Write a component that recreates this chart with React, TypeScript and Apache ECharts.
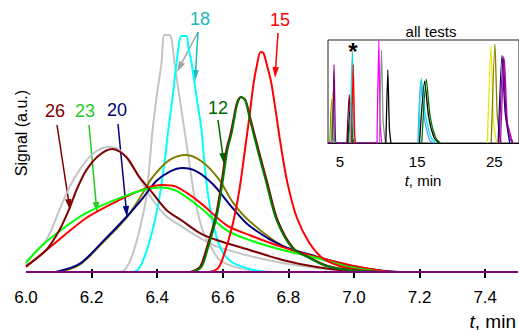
import React, { useEffect, useRef } from "react";
import * as echarts from "echarts";

// ---------- main chart data: [t (min), signal] ----------
const xTickLabels = [6.0, 6.2, 6.4, 6.6, 6.8, 7.0, 7.2, 7.4];
const xTickMarks = [6.2, 6.4, 6.6, 6.8, 7.0, 7.2, 7.4];

const grayWide = [[6.0,0.046],[6.062,0.135],[6.102,0.262],[6.133,0.359],[6.163,0.43],[6.2,0.494],[6.248,0.527],[6.285,0.515],[6.331,0.43],[6.386,0.304],[6.428,0.235],[6.477,0.19],[6.529,0.145],[6.581,0.108],[6.681,0.068],[6.782,0.038],[6.886,0.017],[6.986,0.004],[7.05,0]];
const grayNarrow = [[6.28,0],[6.3,0.008],[6.322,0.063],[6.346,0.177],[6.367,0.316],[6.377,0.46],[6.386,0.6],[6.398,0.738],[6.413,0.88],[6.422,1.0],[6.437,1.0],[6.444,0.98],[6.453,0.88],[6.468,0.738],[6.483,0.6],[6.498,0.46],[6.514,0.316],[6.538,0.177],[6.569,0.093],[6.59,0.051],[6.63,0.025],[6.681,0.008],[6.758,0]];
const cyan18 = [[6.316,0],[6.34,0.008],[6.361,0.063],[6.386,0.177],[6.407,0.316],[6.422,0.46],[6.434,0.6],[6.447,0.738],[6.459,0.88],[6.474,0.996],[6.489,0.996],[6.495,0.949],[6.505,0.88],[6.52,0.738],[6.535,0.6],[6.544,0.46],[6.556,0.316],[6.575,0.177],[6.596,0.093],[6.627,0.042],[6.681,0.013],[6.736,0]];
const olive20 = [[6.1,0],[6.163,0.03],[6.233,0.122],[6.306,0.228],[6.355,0.33],[6.386,0.4],[6.437,0.472],[6.489,0.494],[6.538,0.464],[6.59,0.388],[6.63,0.295],[6.681,0.215],[6.782,0.11],[6.886,0.06],[6.986,0.025],[7.087,0.004],[7.14,0]];
const navy20 = [[6.09,0],[6.163,0.034],[6.233,0.127],[6.306,0.232],[6.355,0.31],[6.398,0.385],[6.44,0.425],[6.477,0.439],[6.52,0.425],[6.57,0.37],[6.63,0.27],[6.681,0.195],[6.782,0.11],[6.886,0.065],[6.986,0.028],[7.087,0.005],[7.14,0]];
const red23 = [[6.0,0.021],[6.081,0.114],[6.184,0.228],[6.285,0.304],[6.367,0.354],[6.416,0.367],[6.459,0.359],[6.529,0.295],[6.611,0.198],[6.681,0.156],[6.782,0.105],[6.886,0.063],[6.986,0.03],[7.087,0.004],[7.12,0]];
const green23 = [[6.0,0.038],[6.04,0.1],[6.1,0.17],[6.184,0.249],[6.285,0.312],[6.367,0.35],[6.41,0.357],[6.459,0.342],[6.529,0.274],[6.611,0.177],[6.681,0.135],[6.782,0.093],[6.886,0.059],[6.986,0.021],[7.087,0]];
const darkRed26 = [[6.0,0.025],[6.062,0.093],[6.102,0.177],[6.133,0.27],[6.154,0.346],[6.184,0.43],[6.224,0.494],[6.264,0.519],[6.306,0.485],[6.346,0.4],[6.386,0.333],[6.428,0.262],[6.477,0.215],[6.529,0.165],[6.581,0.135],[6.681,0.093],[6.782,0.051],[6.886,0.021],[6.986,0.004],[7.08,0]];
const red15 = [[6.56,0],[6.585,0.015],[6.603,0.07],[6.63,0.2],[6.651,0.35],[6.666,0.5],[6.681,0.654],[6.694,0.797],[6.703,0.865],[6.715,0.928],[6.724,0.924],[6.736,0.865],[6.748,0.797],[6.764,0.654],[6.779,0.515],[6.797,0.376],[6.825,0.232],[6.864,0.122],[6.904,0.059],[6.956,0.025],[7.017,0.008],[7.087,0]];
const darkRed12 = [[6.5,0],[6.53,0.021],[6.549,0.093],[6.578,0.232],[6.596,0.376],[6.611,0.515],[6.624,0.586],[6.634,0.654],[6.643,0.713],[6.655,0.738],[6.669,0.725],[6.683,0.654],[6.709,0.515],[6.736,0.376],[6.767,0.219],[6.815,0.101],[6.867,0.059],[6.92,0.025],[6.99,0.008],[7.08,0]];
const green12 = [[6.508,0],[6.535,0.021],[6.553,0.093],[6.581,0.232],[6.599,0.376],[6.614,0.515],[6.627,0.586],[6.636,0.654],[6.645,0.713],[6.657,0.738],[6.669,0.722],[6.681,0.654],[6.706,0.515],[6.733,0.376],[6.764,0.219],[6.812,0.101],[6.864,0.059],[6.916,0.025],[6.986,0.008],[7.078,0]];
const purpleBase = [[6.0,0],[7.5,0]];

// ---------- inset data: [t (min), signal] ----------
const insetTickLabels = [5, 15, 25];
const inPurpleA = [[3.45,0],[3.98,0],[4.23,0.76],[4.4,0.08],[4.55,0],[9.9,0]];
const inPurpleB = [[25.6,0],[26.16,0.84],[26.5,0.3],[27.0,0.05],[27.4,0]];
const inOliveA = [[3.7,0],[3.92,0.42],[4.15,0.05],[4.3,0]];
const inYellowA = [[3.8,0],[4.05,0.49],[4.25,0.05],[4.4,0]];
const inTealA = [[3.9,0],[4.1,0.39],[4.3,0]];
const inDarkRedA = [[5.9,0],[6.2,0.47],[6.45,0.15],[6.7,0]];
const inNavyA = [[6.0,0],[6.38,0.39],[6.6,0.05],[6.8,0]];
const inDkGreenA = [[6.1,0],[6.4,0.3],[6.6,0.05],[6.8,0]];
const inGrayA = [[6.3,0],[6.6,0.9],[6.8,0.1],[6.95,0]];
const inCyanA = [[6.4,0],[6.62,0.88],[6.8,0.1],[6.95,0]];
const inRedA = [[6.5,0],[6.72,0.76],[6.9,0.1],[7.0,0]];
const inMagentaA = [[9.8,0],[10.03,1.0],[10.2,0.2],[10.4,0]];
const inGrayB = [[10.1,0],[10.38,0.9],[10.6,0.2],[10.9,0]];
const inBlackA = [[10.95,0],[11.2,0.71],[11.4,0.15],[11.6,0]];
const inLightBlueB = [[15.1,0],[15.45,0.6],[15.9,0.25],[16.6,0.03],[17.2,0]];
const inCyanB = [[15.2,0],[15.54,0.63],[16.0,0.3],[16.8,0.05],[17.5,0]];
const inBlackB = [[15.3,0],[15.97,0.6],[16.5,0.25],[17.2,0.05],[17.8,0]];
const inDkGreenB = [[15.6,0],[16.18,0.62],[16.7,0.25],[17.4,0.05],[18.0,0]];
const inYellowB = [[24.1,0],[24.57,0.94],[24.9,0.2],[25.3,0]];
const inOliveB = [[24.6,0],[25.08,0.96],[25.4,0.25],[25.9,0]];
const inNavyB = [[25.5,0],[25.99,0.85],[26.4,0.3],[27.0,0]];
const inMagentaB = [[25.8,0],[26.3,0.82],[26.7,0.2],[27.4,0]];

const FONT = "'Liberation Sans', Arial, sans-serif";

function arrow(x1: number, y1: number, x2: number, y2: number, color: string) {
  const dx = x2 - x1, dy = y2 - y1;
  const len = Math.hypot(dx, dy);
  const ux = dx / len, uy = dy / len;
  const L = 11, W = 3.2;
  const bx = x2 - ux * L, by = y2 - uy * L;
  return [
    { type: "line", shape: { x1, y1, x2: bx, y2: by }, style: { stroke: color, lineWidth: 1.5 } },
    {
      type: "polygon",
      shape: { points: [[x2, y2], [bx - uy * W, by + ux * W], [bx + uy * W, by - ux * W]] },
      style: { fill: color },
    },
  ];
}

function label(text: string, x: number, y: number, color: string, size = 18) {
  return {
    type: "text",
    x,
    y,
    style: { text, fill: color, font: `${size}px ${FONT}`, align: "center", verticalAlign: "middle" },
  };
}

export default function App() {
  const ref = useRef<HTMLDivElement>(null);
  useEffect(() => {
    const chart = echarts.init(ref.current!, null, { renderer: "svg" });

    const mainLines: [number[][], string][] = [
      [grayWide, "#c4c4c4"],
      [grayNarrow, "#c4c4c4"],
      [cyan18, "#00ffff"],
      [olive20, "#808000"],
      [navy20, "#000080"],
      [red23, "#ff0000"],
      [green23, "#00ff00"],
      [darkRed26, "#800000"],
      [red15, "#ff0000"],
      [darkRed12, "#800000"],
      [green12, "#007a00"],
      [purpleBase, "#800080"],
    ];
    const insetLines: [number[][], string][] = [
      [inOliveA, "#808000"], [inYellowA, "#e8e800"], [inTealA, "#3aa0a0"], [inPurpleA, "#800080"],
      [inDarkRedA, "#800000"], [inNavyA, "#000080"], [inDkGreenA, "#008000"], [inGrayA, "#a8a8a8"],
      [inCyanA, "#00e0e0"], [inRedA, "#ff0000"], [inMagentaA, "#ff00ff"], [inGrayB, "#909090"],
      [inBlackA, "#000000"], [inLightBlueB, "#5aa0ff"], [inCyanB, "#00e8e8"], [inBlackB, "#000000"],
      [inDkGreenB, "#007000"], [inYellowB, "#e8e800"], [inOliveB, "#808000"], [inNavyB, "#000080"],
      [inMagentaB, "#c000c0"], [inPurpleB, "#800080"],
    ];

    const series: any[] = [];
    mainLines.forEach(([data, color]) =>
      series.push({
        type: "line", xAxisIndex: 0, yAxisIndex: 0, data, showSymbol: false, smooth: 0.3,
        lineStyle: { color, width: 2 }, silent: true,
      })
    );
    insetLines.forEach(([data, color]) =>
      series.push({
        type: "line", xAxisIndex: 1, yAxisIndex: 1, data, showSymbol: false, smooth: 0.2,
        lineStyle: { color, width: 1.3 }, silent: true,
      })
    );

    const graphic: any[] = [
      label("26", 55, 111, "#800000"),
      label("23", 85, 111, "#22cc22"),
      label("20", 117, 110, "#000080"),
      label("12", 218, 108, "#006400"),
      label("18", 200, 19, "#20b8b8"),
      label("15", 280, 20, "#ff0000"),
      ...arrow(57, 125, 70, 210, "#800000"),
      ...arrow(89, 125, 97, 213, "#22cc22"),
      ...arrow(118, 124, 127, 217, "#000080"),
      ...arrow(218, 120, 224, 164, "#006400"),
      ...arrow(198, 32, 177, 72, "#a0a0a0"),
      ...arrow(198, 32, 195, 81, "#20b8b8"),
      ...arrow(278, 33, 275, 78, "#ff0000"),
      {
        type: "text", x: 21, y: 133, rotation: Math.PI / 2,
        style: { text: "Signal (a.u.)", fill: "#000", font: `16px ${FONT}`, align: "center", verticalAlign: "middle" },
      },
      {
        type: "text", x: 516, y: 321,
        style: {
          text: "{i|t}, min", fill: "#000", font: `19px ${FONT}`, align: "right", verticalAlign: "middle",
          rich: { i: { fontStyle: "italic", fontSize: 19, fontFamily: FONT } },
        },
      },
      label("all tests", 431, 31, "#000", 15),
      {
        type: "text", x: 423, y: 180,
        style: {
          text: "{i|t}, min", fill: "#000", font: `15px ${FONT}`, align: "center", verticalAlign: "middle",
          rich: { i: { fontStyle: "italic", fontSize: 15, fontFamily: FONT } },
        },
      },
      {
        type: "text", x: 353, y: 51,
        style: { text: "*", fill: "#000", font: `bold 24px ${FONT}`, align: "center", verticalAlign: "middle" },
      },
    ];

    const option: any = {
      animation: false,
      backgroundColor: "#fff",
      grid: [
        { left: 26, top: 35, width: 492, height: 237, show: false },
        { left: 328, top: 40, width: 192, height: 103, show: true, borderColor: "#222", borderWidth: 1, backgroundColor: "transparent" },
      ],
      xAxis: [
        {
          type: "value", gridIndex: 0, min: 6.0, max: 7.5, offset: -3,
          splitLine: { show: false },
          axisLine: { show: false },
          axisTick: { show: true, inside: false, length: 9, customValues: xTickMarks, lineStyle: { color: "#000", width: 2 } },
          axisLabel: {
            customValues: xTickLabels, formatter: (v: number) => v.toFixed(1),
            color: "#000", fontSize: 17, fontFamily: FONT, margin: 20,
          },
        },
        {
          type: "value", gridIndex: 1, min: 3.45, max: 28.2,
          splitLine: { show: false },
          axisLine: { show: true, lineStyle: { color: "#000", width: 1 } },
          axisTick: { show: false },
          axisLabel: { customValues: insetTickLabels, color: "#000", fontSize: 15, fontFamily: FONT, margin: 11 },
        },
      ],
      yAxis: [
        { type: "value", gridIndex: 0, min: 0, max: 1, show: false, splitLine: { show: false } },
        { type: "value", gridIndex: 1, min: 0, max: 1, show: false, splitLine: { show: false } },
      ],
      series,
      graphic,
    };
    chart.setOption(option);
    return () => chart.dispose();
  }, []);
  return <div ref={ref} style={{ position: "fixed", left: 0, top: 0, width: 519, height: 330 }} />;
}
